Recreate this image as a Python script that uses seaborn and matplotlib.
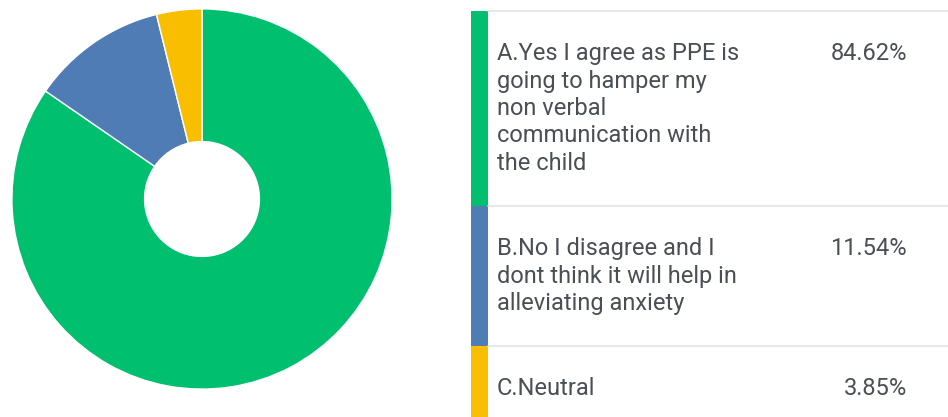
import matplotlib.pyplot as plt
import seaborn as sns

# answer options and their shares (%)
labels = ["A.Yes I agree as PPE is going to hamper my non verbal communication with the child",
          "B.No I disagree and I dont think it will help in alleviating anxiety",
          "C.Neutral"]
shares = [84.62, 11.54, 3.85]
# legend text, wrapped as in the survey table
label_lines = [["A.Yes I agree as PPE is", "going to hamper my", "non verbal",
                "communication with", "the child"],
               ["B.No I disagree and I", "dont think it will help in", "alleviating anxiety"],
               ["C.Neutral"]]
colors = ["#00bf6f", "#507cb6", "#f9be00"]

sns.set_theme(style="white")
plt.rcParams['font.family'] = ['Roboto', 'DejaVu Sans']

W, H = 948, 417
fig = plt.figure(figsize=(W / 100, H / 100), dpi=100)

# donut chart
cx, cy, r = 202, 199, 192
ax = fig.add_axes([(cx - r) / W, (H - cy - r) / H, 2 * r / W, 2 * r / H])
ax.pie(shares, colors=colors, startangle=90, counterclock=False, radius=1,
       wedgeprops=dict(width=1 - 58 / r, edgecolor="white", linewidth=1))
ax.set_xlim(-1.01, 1.01)
ax.set_ylim(-1.01, 1.01)
ax.set_aspect("equal")
ax.axis("off")

# legend table drawn in pixel coordinates
lg = fig.add_axes([0, 0, 1, 1])
lg.set_xlim(0, W)
lg.set_ylim(H, 0)
lg.axis("off")

line_h = 27.5
pad = 57.5
top = 11
text_col = "#4a4f55"
for lines, pct, col in zip(label_lines, shares, colors):
    row_h = pad + len(lines) * line_h
    lg.bar(479.5, row_h, bottom=top, width=17, color=col, linewidth=0)
    lg.plot([488, W], [top, top], color="#e3e3e3", lw=1.2)
    for i, t in enumerate(lines):
        lg.text(497, top + 49 + i * line_h, t, fontsize=17, color=text_col,
                va="baseline", ha="left")
    lg.text(907, top + 49, f"{pct:.2f}%", fontsize=17, color=text_col,
            va="baseline", ha="right")
    top += row_h

fig.savefig("out.png", dpi=100, facecolor="white")
